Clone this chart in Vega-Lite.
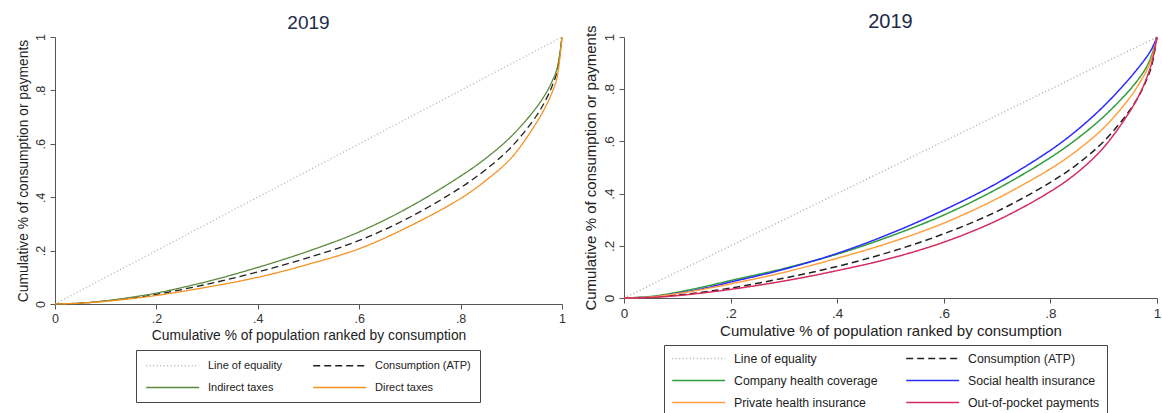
{
  "$schema": "https://vega.github.io/schema/vega-lite/v6.json",
  "padding": {"left": 15, "top": 11, "right": 2, "bottom": 0},
  "spacing": 16,
  "datasets": {
    "left": [
      {"s": "Line of equality", "x": 0, "y": 0}, {"s": "Line of equality", "x": 1, "y": 1},
      {"s": "Consumption (ATP)", "x": 0, "y": 0}, {"s": "Consumption (ATP)", "x": 0.05, "y": 0.003}, {"s": "Consumption (ATP)", "x": 0.1, "y": 0.011}, {"s": "Consumption (ATP)", "x": 0.15, "y": 0.022}, {"s": "Consumption (ATP)", "x": 0.2, "y": 0.036}, {"s": "Consumption (ATP)", "x": 0.3, "y": 0.074}, {"s": "Consumption (ATP)", "x": 0.4, "y": 0.12}, {"s": "Consumption (ATP)", "x": 0.5, "y": 0.174}, {"s": "Consumption (ATP)", "x": 0.6, "y": 0.238}, {"s": "Consumption (ATP)", "x": 0.7, "y": 0.325}, {"s": "Consumption (ATP)", "x": 0.8, "y": 0.436}, {"s": "Consumption (ATP)", "x": 0.85, "y": 0.504}, {"s": "Consumption (ATP)", "x": 0.9, "y": 0.588}, {"s": "Consumption (ATP)", "x": 0.95, "y": 0.706}, {"s": "Consumption (ATP)", "x": 0.97, "y": 0.772}, {"s": "Consumption (ATP)", "x": 0.98, "y": 0.814}, {"s": "Consumption (ATP)", "x": 0.99, "y": 0.868}, {"s": "Consumption (ATP)", "x": 1, "y": 1},
      {"s": "Indirect taxes", "x": 0, "y": 0}, {"s": "Indirect taxes", "x": 0.05, "y": 0.003}, {"s": "Indirect taxes", "x": 0.1, "y": 0.012}, {"s": "Indirect taxes", "x": 0.15, "y": 0.025}, {"s": "Indirect taxes", "x": 0.2, "y": 0.041}, {"s": "Indirect taxes", "x": 0.3, "y": 0.084}, {"s": "Indirect taxes", "x": 0.4, "y": 0.137}, {"s": "Indirect taxes", "x": 0.5, "y": 0.198}, {"s": "Indirect taxes", "x": 0.6, "y": 0.27}, {"s": "Indirect taxes", "x": 0.7, "y": 0.364}, {"s": "Indirect taxes", "x": 0.8, "y": 0.479}, {"s": "Indirect taxes", "x": 0.85, "y": 0.546}, {"s": "Indirect taxes", "x": 0.9, "y": 0.628}, {"s": "Indirect taxes", "x": 0.95, "y": 0.737}, {"s": "Indirect taxes", "x": 0.97, "y": 0.795}, {"s": "Indirect taxes", "x": 0.98, "y": 0.832}, {"s": "Indirect taxes", "x": 0.99, "y": 0.88}, {"s": "Indirect taxes", "x": 1, "y": 1},
      {"s": "Direct taxes", "x": 0, "y": 0}, {"s": "Direct taxes", "x": 0.05, "y": 0.003}, {"s": "Direct taxes", "x": 0.1, "y": 0.01}, {"s": "Direct taxes", "x": 0.15, "y": 0.02}, {"s": "Direct taxes", "x": 0.2, "y": 0.032}, {"s": "Direct taxes", "x": 0.3, "y": 0.063}, {"s": "Direct taxes", "x": 0.4, "y": 0.1}, {"s": "Direct taxes", "x": 0.5, "y": 0.149}, {"s": "Direct taxes", "x": 0.6, "y": 0.207}, {"s": "Direct taxes", "x": 0.7, "y": 0.292}, {"s": "Direct taxes", "x": 0.8, "y": 0.395}, {"s": "Direct taxes", "x": 0.85, "y": 0.463}, {"s": "Direct taxes", "x": 0.9, "y": 0.547}, {"s": "Direct taxes", "x": 0.95, "y": 0.68}, {"s": "Direct taxes", "x": 0.97, "y": 0.748}, {"s": "Direct taxes", "x": 0.98, "y": 0.79}, {"s": "Direct taxes", "x": 0.99, "y": 0.846}, {"s": "Direct taxes", "x": 1, "y": 1}
    ],
    "right": [
      {"s": "Line of equality", "x": 0, "y": 0}, {"s": "Line of equality", "x": 1, "y": 1},
      {"s": "Consumption (ATP)", "x": 0, "y": 0}, {"s": "Consumption (ATP)", "x": 0.05, "y": 0.003}, {"s": "Consumption (ATP)", "x": 0.1, "y": 0.011}, {"s": "Consumption (ATP)", "x": 0.15, "y": 0.023}, {"s": "Consumption (ATP)", "x": 0.2, "y": 0.038}, {"s": "Consumption (ATP)", "x": 0.3, "y": 0.076}, {"s": "Consumption (ATP)", "x": 0.4, "y": 0.121}, {"s": "Consumption (ATP)", "x": 0.5, "y": 0.177}, {"s": "Consumption (ATP)", "x": 0.6, "y": 0.246}, {"s": "Consumption (ATP)", "x": 0.7, "y": 0.332}, {"s": "Consumption (ATP)", "x": 0.8, "y": 0.443}, {"s": "Consumption (ATP)", "x": 0.85, "y": 0.512}, {"s": "Consumption (ATP)", "x": 0.9, "y": 0.6}, {"s": "Consumption (ATP)", "x": 0.95, "y": 0.722}, {"s": "Consumption (ATP)", "x": 0.97, "y": 0.79}, {"s": "Consumption (ATP)", "x": 0.98, "y": 0.834}, {"s": "Consumption (ATP)", "x": 0.99, "y": 0.89}, {"s": "Consumption (ATP)", "x": 1, "y": 1},
      {"s": "Company health coverage", "x": 0, "y": 0}, {"s": "Company health coverage", "x": 0.05, "y": 0.006}, {"s": "Company health coverage", "x": 0.1, "y": 0.022}, {"s": "Company health coverage", "x": 0.15, "y": 0.043}, {"s": "Company health coverage", "x": 0.2, "y": 0.067}, {"s": "Company health coverage", "x": 0.3, "y": 0.113}, {"s": "Company health coverage", "x": 0.4, "y": 0.168}, {"s": "Company health coverage", "x": 0.5, "y": 0.237}, {"s": "Company health coverage", "x": 0.6, "y": 0.318}, {"s": "Company health coverage", "x": 0.7, "y": 0.418}, {"s": "Company health coverage", "x": 0.8, "y": 0.538}, {"s": "Company health coverage", "x": 0.85, "y": 0.61}, {"s": "Company health coverage", "x": 0.9, "y": 0.695}, {"s": "Company health coverage", "x": 0.95, "y": 0.8}, {"s": "Company health coverage", "x": 0.97, "y": 0.852}, {"s": "Company health coverage", "x": 0.98, "y": 0.884}, {"s": "Company health coverage", "x": 0.99, "y": 0.93}, {"s": "Company health coverage", "x": 1, "y": 1},
      {"s": "Social health insurance", "x": 0, "y": 0}, {"s": "Social health insurance", "x": 0.05, "y": 0.004}, {"s": "Social health insurance", "x": 0.1, "y": 0.018}, {"s": "Social health insurance", "x": 0.15, "y": 0.037}, {"s": "Social health insurance", "x": 0.2, "y": 0.061}, {"s": "Social health insurance", "x": 0.3, "y": 0.11}, {"s": "Social health insurance", "x": 0.4, "y": 0.171}, {"s": "Social health insurance", "x": 0.5, "y": 0.247}, {"s": "Social health insurance", "x": 0.6, "y": 0.337}, {"s": "Social health insurance", "x": 0.7, "y": 0.44}, {"s": "Social health insurance", "x": 0.8, "y": 0.566}, {"s": "Social health insurance", "x": 0.85, "y": 0.643}, {"s": "Social health insurance", "x": 0.9, "y": 0.735}, {"s": "Social health insurance", "x": 0.95, "y": 0.845}, {"s": "Social health insurance", "x": 0.97, "y": 0.895}, {"s": "Social health insurance", "x": 0.98, "y": 0.922}, {"s": "Social health insurance", "x": 0.99, "y": 0.954}, {"s": "Social health insurance", "x": 1, "y": 1},
      {"s": "Private health insurance", "x": 0, "y": 0}, {"s": "Private health insurance", "x": 0.05, "y": 0.004}, {"s": "Private health insurance", "x": 0.1, "y": 0.017}, {"s": "Private health insurance", "x": 0.15, "y": 0.034}, {"s": "Private health insurance", "x": 0.2, "y": 0.054}, {"s": "Private health insurance", "x": 0.3, "y": 0.098}, {"s": "Private health insurance", "x": 0.4, "y": 0.152}, {"s": "Private health insurance", "x": 0.5, "y": 0.213}, {"s": "Private health insurance", "x": 0.6, "y": 0.287}, {"s": "Private health insurance", "x": 0.7, "y": 0.381}, {"s": "Private health insurance", "x": 0.8, "y": 0.495}, {"s": "Private health insurance", "x": 0.85, "y": 0.565}, {"s": "Private health insurance", "x": 0.9, "y": 0.652}, {"s": "Private health insurance", "x": 0.95, "y": 0.77}, {"s": "Private health insurance", "x": 0.97, "y": 0.833}, {"s": "Private health insurance", "x": 0.98, "y": 0.87}, {"s": "Private health insurance", "x": 0.99, "y": 0.918}, {"s": "Private health insurance", "x": 1, "y": 1},
      {"s": "Out-of-pocket payments", "x": 0, "y": 0}, {"s": "Out-of-pocket payments", "x": 0.05, "y": 0.002}, {"s": "Out-of-pocket payments", "x": 0.1, "y": 0.009}, {"s": "Out-of-pocket payments", "x": 0.15, "y": 0.02}, {"s": "Out-of-pocket payments", "x": 0.2, "y": 0.033}, {"s": "Out-of-pocket payments", "x": 0.3, "y": 0.065}, {"s": "Out-of-pocket payments", "x": 0.4, "y": 0.105}, {"s": "Out-of-pocket payments", "x": 0.5, "y": 0.152}, {"s": "Out-of-pocket payments", "x": 0.6, "y": 0.214}, {"s": "Out-of-pocket payments", "x": 0.7, "y": 0.297}, {"s": "Out-of-pocket payments", "x": 0.8, "y": 0.408}, {"s": "Out-of-pocket payments", "x": 0.85, "y": 0.48}, {"s": "Out-of-pocket payments", "x": 0.9, "y": 0.577}, {"s": "Out-of-pocket payments", "x": 0.95, "y": 0.718}, {"s": "Out-of-pocket payments", "x": 0.97, "y": 0.792}, {"s": "Out-of-pocket payments", "x": 0.98, "y": 0.84}, {"s": "Out-of-pocket payments", "x": 0.99, "y": 0.9}, {"s": "Out-of-pocket payments", "x": 1, "y": 1}
    ]
  },
  "hconcat": [
    {
      "data": {"name": "left"},
      "width": 507,
      "height": 267,
      "title": {"text": "2019"},
      "mark": {"type": "line", "interpolate": "catmull-rom", "strokeWidth": 1.3},
      "encoding": {
        "x": {"field": "x", "type": "quantitative", "scale": {"domain": [0, 1], "nice": false},
              "axis": {"title": "Cumulative % of population ranked by consumption", "values": [0, 0.2, 0.4, 0.6, 0.8, 1],
                       "labelExpr": "datum.value == 0 ? '0' : datum.value == 1 ? '1' : replace(format(datum.value, '.1f'), '0.', '.')"}},
        "y": {"field": "y", "type": "quantitative", "scale": {"domain": [0, 1], "nice": false},
              "axis": {"title": "Cumulative % of consumption or payments", "values": [0, 0.2, 0.4, 0.6, 0.8, 1],
                       "labelAngle": -90, "labelAlign": "center", "labelBaseline": "bottom",
                       "labelExpr": "datum.value == 0 ? '0' : datum.value == 1 ? '1' : replace(format(datum.value, '.1f'), '0.', '.')"}},
        "detail": {"field": "s"},
        "color": {"field": "s", "type": "nominal", "title": null,
                  "scale": {"domain": ["Line of equality", "Consumption (ATP)", "Indirect taxes", "Direct taxes"],
                            "range": ["#b0b0b0", "#222222", "#5a8a3c", "#f5901f"]},
                  "legend": {"orient": "none", "legendX": 81, "legendY": 313, "direction": "horizontal", "columns": 2, "labelFontSize": 11, "columnPadding": 28, "rowPadding": 10, "padding": 9}},
        "strokeDash": {"field": "s", "type": "nominal", "title": null,
                       "scale": {"domain": ["Line of equality", "Consumption (ATP)", "Indirect taxes", "Direct taxes"],
                                 "range": [[1, 2.5], [7, 4], [1, 0], [1, 0]]},
                       "legend": {"orient": "none", "legendX": 81, "legendY": 313, "direction": "horizontal", "columns": 2, "labelFontSize": 11, "columnPadding": 28, "rowPadding": 10, "padding": 9}}
      }
    },
    {
      "data": {"name": "right"},
      "width": 533,
      "height": 261,
      "title": {"text": "2019", "offset": -7, "fontSize": 20},
      "mark": {"type": "line", "interpolate": "catmull-rom", "strokeWidth": 1.5},
      "encoding": {
        "x": {"field": "x", "type": "quantitative", "scale": {"domain": [0, 1], "nice": false},
              "axis": {"title": "Cumulative % of population ranked by consumption", "titleFontSize": 15, "labelFontSize": 13.5, "values": [0, 0.2, 0.4, 0.6, 0.8, 1],
                       "labelExpr": "datum.value == 0 ? '0' : datum.value == 1 ? '1' : replace(format(datum.value, '.1f'), '0.', '.')"}},
        "y": {"field": "y", "type": "quantitative", "scale": {"domain": [0, 1], "nice": false},
              "axis": {"title": "Cumulative % of consumption or payments", "titleFontSize": 15, "labelFontSize": 13.5, "values": [0, 0.2, 0.4, 0.6, 0.8, 1],
                       "labelAngle": -90, "labelAlign": "center", "labelBaseline": "bottom",
                       "labelExpr": "datum.value == 0 ? '0' : datum.value == 1 ? '1' : replace(format(datum.value, '.1f'), '0.', '.')"}},
        "detail": {"field": "s"},
        "color": {"field": "s", "type": "nominal", "title": null,
                  "scale": {"domain": ["Line of equality", "Consumption (ATP)", "Company health coverage", "Social health insurance", "Private health insurance", "Out-of-pocket payments"],
                            "range": ["#b0b0b0", "#222222", "#2f9e3a", "#2a2aff", "#ffa040", "#d42c5c"]},
                  "legend": {"orient": "none", "legendX": 40, "legendY": 308, "direction": "horizontal", "columns": 2, "labelFontSize": 12.3, "columnPadding": 25, "rowPadding": 9, "padding": 7}},
        "strokeDash": {"field": "s", "type": "nominal", "title": null,
                       "scale": {"domain": ["Line of equality", "Consumption (ATP)", "Company health coverage", "Social health insurance", "Private health insurance", "Out-of-pocket payments"],
                                 "range": [[1, 2.5], [7, 4], [1, 0], [1, 0], [1, 0], [1, 0]]},
                       "legend": {"orient": "none", "legendX": 40, "legendY": 308, "direction": "horizontal", "columns": 2, "labelFontSize": 12.3, "columnPadding": 25, "rowPadding": 9, "padding": 7}}
      }
    }
  ],
  "resolve": {"scale": {"color": "independent", "strokeDash": "independent", "x": "independent", "y": "independent"}, "legend": {"color": "independent", "strokeDash": "independent"}},
  "config": {
    "font": "Liberation Sans",
    "view": {"stroke": null},
    "title": {"fontSize": 19, "fontWeight": "normal", "color": "#1e2b4a", "offset": 1, "font": "Liberation Sans", "frame": "group"},
    "axis": {"grid": false, "domainColor": "#555555", "tickColor": "#555555", "tickSize": 5, "labelFont": "Liberation Sans", "labelFontSize": 12.5, "labelColor": "#333333", "labelPadding": 3,
             "titleFont": "Liberation Sans", "titleFontSize": 13.8, "titleFontWeight": "normal", "titleColor": "#222222", "titlePadding": 4, "labelFlush": false},
    "legend": {"strokeColor": "#444444", "symbolType": "M-1,0H9", "symbolSize": 112, "symbolStrokeWidth": 1.5, "labelFont": "Liberation Sans", "labelColor": "#222222", "labelOffset": 50}
  }
}
